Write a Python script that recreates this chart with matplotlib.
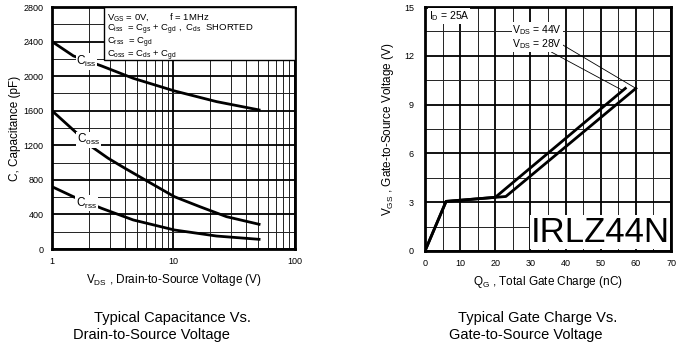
import numpy as np
import matplotlib.pyplot as plt
from matplotlib.patches import Rectangle

plt.rcParams['font.family'] = ['Liberation Sans', 'DejaVu Sans']
plt.rcParams['mathtext.fontset'] = 'custom'
plt.rcParams['mathtext.rm'] = 'Liberation Sans'
plt.rcParams['mathtext.it'] = 'Liberation Sans'

# Datos: capacitancias frente a VDS
vds_iss = [1, 1.5, 2.56, 4.67, 10.2, 22.7, 50.8]
ciss = [2400, 2234, 2118, 1975, 1829, 1705, 1609]
vds_oss = [1, 1.55, 2.12, 2.9, 3.99, 6.2, 10.2, 16.5, 27.4, 50.8]
coss = [1600, 1358, 1184, 1050, 934, 779, 605, 490, 374, 286]
vds_rss = [1, 1.5, 2.56, 4.67, 10.2, 22.7, 50.8]
crss = [721, 605, 471, 336, 220, 150, 112]

# Datos: carga de puerta
qg_28 = [0, 6, 20, 57]
vgs_28 = [0, 3.05, 3.3, 10]
qg_44 = [0, 6, 23, 60]
vgs_44 = [0, 3.05, 3.35, 10]

fig = plt.figure(figsize=(6.8, 3.52), dpi=100)
fig.patch.set_facecolor('white')

# ---- Gráfico izquierdo ----
ax1 = fig.add_axes([0.0765, 0.2926, 0.357, 0.6875])
ax1.set_xscale('log')
ax1.set_xlim(1, 100)
ax1.set_ylim(0, 2800)
ax1.set_yticks(range(0, 2801, 400))
ax1.set_yticks(range(200, 2800, 400), minor=True)
ax1.set_xticks([1, 10, 100])
ax1.set_xticklabels(['1', '10', '100'])
ax1.grid(which='major', color='black', lw=1.3)
ax1.grid(which='minor', color='#222222', lw=0.7)
ax1.tick_params(which='both', length=0, labelsize=6.5, pad=6)
ax1.tick_params(axis='y', pad=6)
ax1.tick_params(which='minor', labelbottom=False)
for s in ax1.spines.values():
    s.set_linewidth(2)

ax1.plot(vds_iss, ciss, color='black', lw=2, zorder=3)
ax1.plot(vds_oss, coss, color='black', lw=2, zorder=3)
ax1.plot(vds_rss, crss, color='black', lw=2, zorder=3)

bb = dict(facecolor='white', edgecolor='none', pad=0.5)
ax1.text(1.92, 2168, r'C$_{\rm iss}$', fontsize=8.5, ha='center', va='center', bbox=bb, zorder=4)
ax1.text(2.0, 1262, r'C$_{\rm oss}$', fontsize=8.5, ha='center', va='center', bbox=bb, zorder=4)
ax1.text(1.92, 532, r'C$_{\rm rss}$', fontsize=8.5, ha='center', va='center', bbox=bb, zorder=4)

# Cuadro con las condiciones de medida
ax1.add_patch(Rectangle((0.214, 0.781), 0.786, 0.219, transform=ax1.transAxes,
                        facecolor='white', edgecolor='black', lw=1, zorder=5))
leyenda = [r'V$_{\rm GS}$ = 0V,        f = 1MHz',
           r'C$_{\rm iss}$  = C$_{\rm gs}$ + C$_{\rm gd}$ ,  C$_{\rm ds}$  SHORTED',
           r'C$_{\rm rss}$  = C$_{\rm gd}$',
           r'C$_{\rm oss}$ = C$_{\rm ds}$ + C$_{\rm gd}$']
for i, t in enumerate(leyenda):
    ax1.text(0.228, 0.96 - i * 0.0545, t, transform=ax1.transAxes, fontsize=6.8,
             va='center', zorder=6)

ax1.set_ylabel('C, Capacitance (pF)', fontsize=8.5, labelpad=2)
ax1.set_xlabel(r'V$_{\rm DS}$ , Drain-to-Source Voltage (V)', fontsize=8.5, labelpad=4)

# ---- Gráfico derecho ----
ax2 = fig.add_axes([0.625, 0.287, 0.3618, 0.693])
ax2.set_xlim(0, 70)
ax2.set_ylim(0, 15)
ax2.set_xticks(range(0, 71, 10))
ax2.set_xticks(range(5, 70, 10), minor=True)
ax2.set_yticks(range(0, 16, 3))
ax2.set_yticks(np.arange(1.5, 15, 3), minor=True)
ax2.grid(which='major', color='black', lw=1.3)
ax2.grid(which='minor', color='#222222', lw=0.7)
ax2.tick_params(which='both', length=0, labelsize=6.5, pad=6)
ax2.tick_params(axis='y', pad=8)
for s in ax2.spines.values():
    s.set_linewidth(2)

ax2.plot(qg_28, vgs_28, color='black', lw=2, zorder=3)
ax2.plot(qg_44, vgs_44, color='black', lw=2, zorder=3)

ax2.text(1, 14.45, r'I$_{\rm D}$ = 25A', fontsize=7.5, va='center', bbox=bb, zorder=5)
ax2.annotate(r'V$_{\rm DS}$ = 44V', xy=(qg_44[-1], vgs_44[-1]), xytext=(39, 13.6),
             fontsize=7.5, ha='right', va='center', bbox=bb, zorder=5,
             arrowprops=dict(arrowstyle='-', lw=0.6, color='black', shrinkA=0, shrinkB=0))
ax2.annotate(r'V$_{\rm DS}$ = 28V', xy=(qg_28[-1] - 1, vgs_28[-1] - 0.1), xytext=(39, 12.7),
             fontsize=7.5, ha='right', va='center', bbox=bb, zorder=5,
             arrowprops=dict(arrowstyle='-', lw=0.6, color='black', shrinkA=0, shrinkB=0))

ax2.text(0.995, 0.01, 'IRLZ44N', transform=ax2.transAxes, fontsize=25, ha='right',
         va='bottom', bbox=dict(facecolor='white', edgecolor='none', pad=0.5), zorder=5)

ax2.set_ylabel(r'V$_{\rm GS}$ , Gate-to-Source Voltage (V)', fontsize=8.5, labelpad=6)
ax2.set_xlabel(r'Q$_{\rm G}$ , Total Gate Charge (nC)', fontsize=8.5, labelpad=4)

# ---- Títulos inferiores ----
fig.text(0.253, 0.085, 'Typical Capacitance Vs.', fontsize=10.5, ha='center')
fig.text(0.222, 0.037, 'Drain-to-Source Voltage', fontsize=10.5, ha='center')
fig.text(0.791, 0.085, 'Typical Gate Charge Vs.', fontsize=10.5, ha='center')
fig.text(0.773, 0.037, 'Gate-to-Source Voltage', fontsize=10.5, ha='center')

plt.savefig('out.png', dpi=100)
